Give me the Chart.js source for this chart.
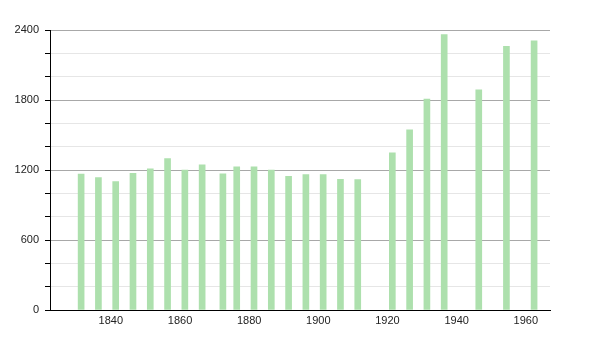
<!DOCTYPE html>
<html>
<head>
<meta charset="utf-8">
<script src="https://cdn.jsdelivr.net/npm/chart.js@4/dist/chart.umd.min.js"></script>
<style>
  html, body { margin: 0; padding: 0; background: #fff; }
  #wrap { width: 600px; height: 340px; }
</style>
</head>
<body>
<div id="wrap"><canvas id="pop-chart" width="600" height="340"></canvas></div>
<script>
// census years and population
const years = [1831, 1836, 1841, 1846, 1851, 1856, 1861, 1866, 1872, 1876, 1881, 1886,
  1891, 1896, 1901, 1906, 1911, 1921, 1926, 1931, 1936, 1946, 1954, 1962];
const population = [1166, 1134, 1100, 1171, 1211, 1297, 1200, 1245, 1168, 1228, 1228, 1200,
  1145, 1160, 1160, 1120, 1117, 1348, 1545, 1808, 2360, 1888, 2259, 2308];
const yTicks = [0, 600, 1200, 1800, 2400];
const xTicks = [1840, 1860, 1880, 1900, 1920, 1940, 1960];

const points = years.map((y, i) => ({ x: y + 0.4, y: population[i] }));

const ctx = document.getElementById('pop-chart').getContext('2d');
new Chart(ctx, {
  type: 'bar',
  data: {
    datasets: [{
      data: points,
      backgroundColor: '#ade0ad',
      barThickness: 6,
    }],
  },
  options: {
    responsive: false,
    animation: false,
    layout: { padding: { left: 0, right: 50, top: 30, bottom: 0 } },
    plugins: { legend: { display: false }, tooltip: { enabled: false } },
    scales: {
      x: {
        type: 'linear',
        offset: false,
        min: 1822.4,
        max: 1967,
        afterBuildTicks: (scale) => { scale.ticks = xTicks.map(v => ({ value: v })); },
        afterFit: (scale) => { scale.height = 30; },
        grid: { display: false, drawTicks: false, offset: false },
        border: { color: '#000', width: 1 },
        ticks: {
          color: '#222',
          padding: 4,
          font: { family: 'Liberation Sans', size: 11 },
          callback: (v) => String(v),
        },
      },
      y: {
        min: 0,
        max: 2400,
        ticks: {
          stepSize: 200,
          color: '#222',
          padding: 6,
          font: { family: 'Liberation Sans', size: 11 },
          callback: (v) => yTicks.includes(v) ? String(v) : '',
        },
        afterFit: (scale) => { scale.width = 50; },
        grid: {
          color: (c) => (c.tick && c.tick.value % 600 === 0) ? '#a8a8a8' : '#e6e6e6',
          tickColor: '#000',
          tickLength: 5,
          lineWidth: 1,
        },
        border: { color: '#000', width: 1 },
      },
    },
  },
});
</script>
</body>
</html>
